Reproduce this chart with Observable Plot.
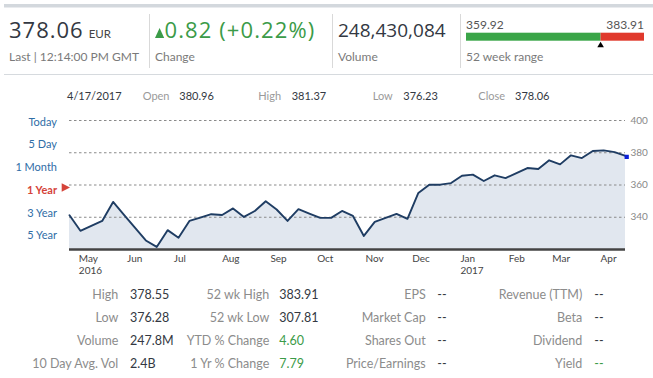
<!DOCTYPE html>
<html><head><meta charset="utf-8">
<script src="https://cdn.jsdelivr.net/npm/d3@7"></script>
<script src="https://cdn.jsdelivr.net/npm/@observablehq/plot@0.6"></script>
<style>
html,body{margin:0;padding:0;background:#fff;}
#wrap{position:relative;width:653px;height:378px;overflow:hidden;font-family:Lato,"Open Sans",sans-serif;}
#bg{position:absolute;left:0;top:0;}
#chart{position:absolute;left:0;top:110px;}
#chart svg{background:transparent;}
</style></head><body><div id="wrap"><svg id="bg" width="653" height="378"></svg><div id="chart"></div></div>
<script>
// ---- data ----
const dates = ["2016-04-25","2016-05-02","2016-05-09","2016-05-16","2016-05-23","2016-05-30","2016-06-06","2016-06-13","2016-06-20","2016-06-27",
"2016-07-04","2016-07-11","2016-07-18","2016-07-25","2016-08-01","2016-08-08","2016-08-15","2016-08-22","2016-08-29","2016-09-05",
"2016-09-12","2016-09-19","2016-09-26","2016-10-03","2016-10-10","2016-10-17","2016-10-24","2016-10-31","2016-11-07","2016-11-14",
"2016-11-21","2016-11-28","2016-12-05","2016-12-12","2016-12-19","2016-12-26","2017-01-02","2017-01-09","2017-01-16","2017-01-23",
"2017-01-30","2017-02-06","2017-02-13","2017-02-20","2017-02-27","2017-03-06","2017-03-13","2017-03-20","2017-03-27","2017-04-03",
"2017-04-10","2017-04-17"];
const prices = [341.2,331.6,334.7,337.7,349.5,341.5,333.5,325.6,321.6,332.0,
327.3,337.7,339.8,341.9,341.4,345.5,340.2,343.9,349.9,344.8,
337.7,345.0,342.3,339.6,339.6,343.9,340.8,328.4,337.1,339.6,
342.1,339.0,355.1,360.2,360.2,361.2,365.7,366.4,362.5,366.0,
364.3,367.4,370.5,369.9,375.3,372.8,378.4,376.7,381.1,381.5,
380.4,378.06];
const monthTicks = ["2016-05-01","2016-06-01","2016-07-01","2016-08-01","2016-09-01","2016-10-01","2016-11-01","2016-12-01","2017-01-01","2017-02-01","2017-03-01","2017-04-01"];
const yTicks = [340,360,380,400];
const yDomain = [320,400];

const rangeLabels = ["Today","5 Day","1 Month","1 Year","3 Year","5 Year"];
const selectedRange = "1 Year";

const headerLast = "378.06", headerCurrency = "EUR", headerTime = "Last | 12:14:00 PM GMT";
const headerChange = "0.82 (+0.22%)", headerVolume = "248,430,084";
const wkLow = 359.92, wkHigh = 383.91, lastPrice = 378.06;

const dayRow = [["","4/17/2017"],["Open","380.96"],["High","381.37"],["Low","376.23"],["Close","378.06"]];

const statCol1Labels = ["High","Low","Volume","10 Day Avg. Vol"];
const statCol1Values = ["378.55","376.28","247.8M","2.4B"];
const statCol2Labels = ["52 wk High","52 wk Low","YTD % Change","1 Yr % Change"];
const statCol2Values = ["383.91","307.81","4.60","7.79"];
const statCol3Labels = ["EPS","Market Cap","Shares Out","Price/Earnings"];
const statCol3Values = ["--","--","--","--"];
const statCol4Labels = ["Revenue (TTM)","Beta","Dividend","Yield"];
const statCol4Values = ["--","--","--","--"];
const greenValues = new Set(["4.60","7.79"]);

// ---- background / text ----
const GREEN = "#3b9b48", DARK = "#333842", GRAY = "#7a7a7a", LGRAY = "#8c8c8c", BLUE = "#2f6da6", RED = "#d5443a";
const BIG = "'Open Sans', Lato, sans-serif";
const bg = d3.select("#bg");
function txt(x, y, s, size, fill, anchor = "start", weight = "normal", family = "Lato, 'Open Sans', sans-serif") {
  return bg.append("text").attr("x", x).attr("y", y).attr("font-size", size).attr("fill", fill)
    .attr("text-anchor", anchor).attr("font-weight", weight).attr("font-family", family).text(s);
}
bg.append("rect").attr("x", 4).attr("y", 4).attr("width", 649).attr("height", 3.5).attr("fill", "#d3d8dd");
bg.append("line").attr("x1", 4).attr("x2", 653).attr("y1", 74.5).attr("y2", 74.5).attr("stroke", "#d6dade");
for (const x of [149.5, 332.5, 460.5]) bg.append("line").attr("x1", x).attr("x2", x).attr("y1", 14).attr("y2", 68).attr("stroke", "#d9d9d9");

const t1 = txt(9, 38.3, headerLast, 22, DARK, "start", "normal", BIG).attr("letter-spacing", 1);
t1.append("tspan").attr("font-size", 11.5).attr("fill", "#444").attr("dx", 5).attr("letter-spacing", 0).attr("font-family", "Lato, sans-serif").text(headerCurrency);
txt(9, 61, headerTime, 12, GRAY);
bg.append("path").attr("d", "M155,38 L159.6,28 L164.2,38 Z").attr("fill", GREEN);
txt(164.5, 38.3, headerChange, 22, GREEN, "start", "normal", BIG).attr("letter-spacing", 1.1);
txt(155, 61, "Change", 12, GRAY);
txt(338, 37, headerVolume, 19, DARK, "start", "normal", BIG);
txt(338, 61, "Volume", 12, GRAY);

// 52 week range bar
const barX = d3.scaleLinear().domain([wkLow, wkHigh]).range([466, 644]);
const mx = barX(lastPrice);
txt(466, 29, wkLow.toFixed(2), 12, "#555");
txt(644, 29, wkHigh.toFixed(2), 12, "#555", "end");
bg.append("rect").attr("x", 466).attr("y", 32.7).attr("width", mx - 466).attr("height", 8).attr("fill", "#3aa548");
bg.append("rect").attr("x", mx).attr("y", 32.7).attr("width", 644 - mx).attr("height", 8).attr("fill", "#e0392c");
bg.append("path").attr("d", `M${mx-3.3},47.3 L${mx},41.7 L${mx+3.3},47.3 Z`).attr("fill", "#000");
txt(466, 61, "52 week range", 12, GRAY);

// day row
const dayPos = [[67, null], [142.7, 179.3], [258.3, 291.7], [372.7, 403.3], [478.3, 515]];
dayRow.forEach(([lab, val], i) => {
  const [lx, vx] = dayPos[i];
  if (lab) { txt(lx, 100, lab, 11, "#9a9a9a"); txt(vx, 100, val, 11, DARK); }
  else txt(lx, 100, val, 11, DARK);
});

// range menu
rangeLabels.forEach((s, i) => {
  const sel = s === selectedRange;
  txt(57, 125.7 + i * 22.7, s, 11, sel ? RED : BLUE, "end", sel ? "bold" : "normal");
});
bg.append("path").attr("d", "M61.7,183.3 L70,187.5 L61.7,191.7 Z").attr("fill", RED);

// stats
const cols = [
  [statCol1Labels, statCol1Values, 118.3, 130],
  [statCol2Labels, statCol2Values, 269.3, 279.3],
  [statCol3Labels, statCol3Values, 425.7, 437.3],
  [statCol4Labels, statCol4Values, 582.3, 594.3]
];
cols.forEach(([labs, vals, lx, vx], c) => {
  labs.forEach((l, r) => {
    const y = 299.3 + r * 23;
    txt(lx, y, l, 12.5, LGRAY, "end");
    const v = vals[r];
    const green = greenValues.has(v) || (c === 3 && r === 3);
    txt(vx, y, v, 12.5, green ? GREEN : DARK);
  });
});

// ---- chart ----
const data = dates.map((d, i) => ({date: new Date(d + "T00:00:00Z"), value: prices[i]}));
const ticks = monthTicks.map(d => new Date(d + "T00:00:00Z"));
const fmt = d3.utcFormat("%b");
const chart = Plot.plot({
  width: 653, height: 170,
  marginLeft: 69, marginRight: 28, marginTop: 10, marginBottom: 31,
  style: {background: "transparent", fontFamily: "Lato, 'Open Sans', sans-serif"},
  x: {type: "utc", domain: [data[0].date, data[data.length - 1].date]},
  y: {domain: yDomain},
  marks: [
    Plot.areaY(data, {x: "date", y1: yDomain[0], y2: "value", fill: "#e1e7ef"}),
    Plot.ruleY(yTicks, {stroke: "#8a8a8a", strokeDasharray: "2.5,2.5"}),
    Plot.lineY(data, {x: "date", y: "value", stroke: "#1f3d63", strokeWidth: 1.9}),
    Plot.ruleY([yDomain[0]], {stroke: "#444", strokeWidth: 2.5}),
    Plot.dot([data[data.length - 1]], {x: "date", y: "value", symbol: "square", r: 2.4, fill: "#0a1fd8", dx: 1.2, dy: 1}),
    Plot.axisY({anchor: "right", ticks: yTicks, tickSize: 0, tickPadding: 5, fontSize: 10, fill: "#888", label: null}),
    Plot.axisX({ticks, tickSize: 0, tickPadding: 4, textAnchor: "start", fontSize: 10, fill: "#444", lineHeight: 1.2, label: null,
      tickFormat: d => (d.getUTCMonth() === 4 && d.getUTCFullYear() === 2016) || d.getUTCMonth() === 0 ? fmt(d) + "\n" + d.getUTCFullYear() : fmt(d)})
  ]
});
document.getElementById("chart").appendChild(chart);
</script></body></html>
